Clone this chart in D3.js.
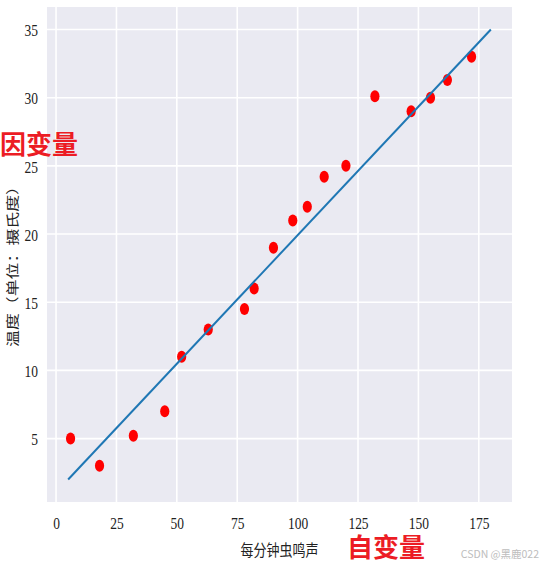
<!DOCTYPE html>
<html>
<head>
<meta charset="utf-8">
<script src="https://cdn.jsdelivr.net/npm/d3@7"></script>
<style>
  body { margin: 0; background: #fff; }
  svg { display: block; }
</style>
</head>
<body>
<div id="chart"></div>
<script>
// crickets chirps per minute vs temperature
const chirps = [6, 18, 32, 45, 52, 63, 78, 82, 90, 98, 104, 111, 120, 132, 147, 155, 162, 172];
const temps = [5, 3, 5.2, 7, 11, 13, 14.5, 16, 19, 21, 22, 24.2, 25, 30.1, 29, 30, 31.3, 33];
// fitted line end points
const lineX = [5, 180];
const lineY = [2, 35];
const xTicks = [0, 25, 50, 75, 100, 125, 150, 175];
const yTicks = [5, 10, 15, 20, 25, 30, 35];

const W = 543, H = 565;
const margin = { top: 7, right: 31, bottom: 63, left: 47 };
const width = W - margin.left - margin.right;
const height = H - margin.top - margin.bottom;
const serif = '"Liberation Serif", "Times New Roman", Times, serif';

const svg = d3.select('#chart')
  .append('svg')
  .attr('width', W)
  .attr('height', H);

const g = svg.append('g')
  .attr('transform', `translate(${margin.left},${margin.top})`);

const x = d3.scaleLinear().domain([-3.75, 188.75]).range([0, width]);
const y = d3.scaleLinear().domain([0.35, 36.65]).range([height, 0]);

// plot background
g.append('rect')
  .attr('width', width)
  .attr('height', height)
  .attr('fill', '#eaeaf2');

// grid
g.append('g')
  .selectAll('line')
  .data(xTicks)
  .enter()
  .append('line')
  .attr('x1', d => x(d)).attr('x2', d => x(d))
  .attr('y1', 0).attr('y2', height)
  .attr('stroke', '#fff')
  .attr('stroke-width', 1.6);

g.append('g')
  .selectAll('line')
  .data(yTicks)
  .enter()
  .append('line')
  .attr('y1', d => y(d)).attr('y2', d => y(d))
  .attr('x1', 0).attr('x2', width)
  .attr('stroke', '#fff')
  .attr('stroke-width', 1.6);

// X axis
const xAxis = g.append('g')
  .attr('transform', `translate(0,${height})`)
  .call(d3.axisBottom(x).tickValues(xTicks).tickSize(0).tickFormat(d3.format('d')));
xAxis.select('.domain').remove();
xAxis.selectAll('text')
  .attr('y', 0)
  .attr('dy', null)
  .attr('dominant-baseline', 'central')
  .attr('transform', 'translate(0,21) scale(1,1.3)')
  .style('font-family', serif)
  .style('font-size', '13.5px')
  .attr('fill', '#222');

// Y axis
const yAxis = g.append('g')
  .call(d3.axisLeft(y).tickValues(yTicks).tickSize(0).tickFormat(d3.format('d')));
yAxis.select('.domain').remove();
yAxis.selectAll('text')
  .attr('x', 0)
  .attr('dy', null)
  .attr('dominant-baseline', 'central')
  .attr('transform', 'translate(-9,0) scale(1,1.3)')
  .style('font-family', serif)
  .style('font-size', '13.5px')
  .attr('fill', '#222');

// axis labels
svg.append('text')
  .attr('transform', `translate(${margin.left + width / 2},549) scale(1,1.2)`)
  .attr('text-anchor', 'middle')
  .attr('dominant-baseline', 'central')
  .style('font-family', '"Noto Sans CJK SC", sans-serif')
  .style('font-size', '13px')
  .attr('fill', '#222')
  .text('每分钟虫鸣声');

svg.append('text')
  .attr('transform', `translate(11,${margin.top + height / 2 + 8}) rotate(-90) scale(1.3,1)`)
  .attr('text-anchor', 'middle')
  .attr('dominant-baseline', 'central')
  .style('font-family', '"Noto Sans CJK SC", sans-serif')
  .style('font-size', '13px')
  .attr('fill', '#222')
  .text('温度（单位：摄氏度）');

// points
g.selectAll('.dot')
  .data(chirps)
  .enter()
  .append('ellipse')
  .attr('class', 'dot')
  .attr('cx', d => x(d))
  .attr('cy', (d, i) => y(temps[i]))
  .attr('rx', 4.6)
  .attr('ry', 6)
  .attr('fill', '#ff0000');

// fitted line
const line = d3.line()
  .x(d => x(d[0]))
  .y(d => y(d[1]));

g.append('path')
  .datum(lineX.map((d, i) => [d, lineY[i]]))
  .attr('d', line)
  .attr('fill', 'none')
  .attr('stroke', '#1f77b4')
  .attr('stroke-width', 2);

// red annotations
svg.append('text')
  .attr('x', 0)
  .attr('y', 154)
  .style('font-family', '"Noto Sans CJK SC", sans-serif')
  .style('font-size', '26px')
  .style('font-weight', 'bold')
  .attr('fill', '#ec1c24')
  .text('因变量');

svg.append('text')
  .attr('x', 347)
  .attr('y', 557)
  .style('font-family', '"Noto Sans CJK SC", sans-serif')
  .style('font-size', '26px')
  .style('font-weight', 'bold')
  .attr('fill', '#ec1c24')
  .text('自变量');

// watermark
svg.append('text')
  .attr('x', 539)
  .attr('y', 558)
  .attr('text-anchor', 'end')
  .style('font-family', '"Noto Sans CJK SC", sans-serif')
  .style('font-size', '10.5px')
  .attr('fill', '#bdbdbd')
  .text('CSDN @黑鹿022');
</script>
</body>
</html>
